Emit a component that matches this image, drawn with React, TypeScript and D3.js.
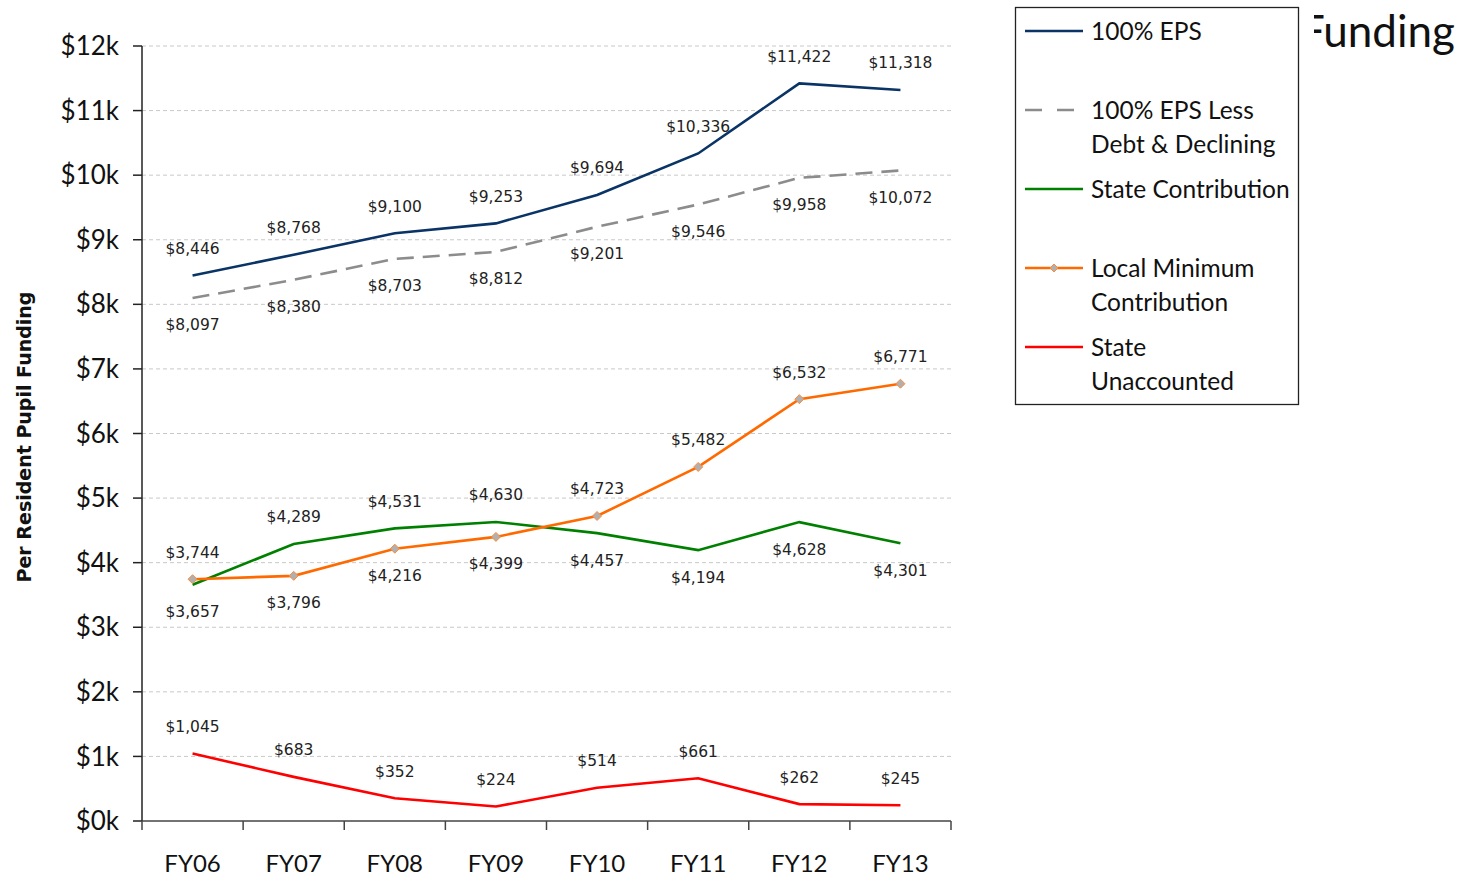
import * as d3 from "d3";

const years = ["FY06", "FY07", "FY08", "FY09", "FY10", "FY11", "FY12", "FY13"];
const yTicks = [0, 1, 2, 3, 4, 5, 6, 7, 8, 9, 10, 11, 12];

const eps = [8446, 8768, 9100, 9253, 9694, 10336, 11422, 11318];
const epsLess = [8097, 8380, 8703, 8812, 9201, 9546, 9958, 10072];
const stateContrib = [3657, 4289, 4531, 4630, 4457, 4194, 4628, 4301];
const localMin = [3744, 3796, 4216, 4399, 4723, 5482, 6532, 6771];
const unaccounted = [1045, 683, 352, 224, 514, 661, 262, 245];

const legendNames = [
  ["100% EPS"],
  ["100% EPS Less", "Debt & Declining"],
  ["State Contribution"],
  ["Local Minimum", "Contribution"],
  ["State", "Unaccounted"],
];

const W = 1464;
const H = 878;
const left = 142;
const right = 951;
const top = 46;
const bottom = 821;

const labelFont = "'DejaVu Sans', Verdana, sans-serif";
const bigFont = "Lato, 'Open Sans', sans-serif";

export default function App() {
  const x = d3.scaleBand<string>().domain(years).range([left, right]);
  const y = d3.scaleLinear().domain([0, 12000]).range([bottom, top]);
  const cx = (i: number) => (x(years[i]) as number) + x.bandwidth() / 2;
  const line = d3
    .line<number>()
    .x((_, i) => cx(i))
    .y((d) => y(d));
  const fmt = d3.format("$,");

  // above/below for the green and orange series: higher one gets label on top
  const series = [
    { name: "eps", data: eps, color: "#0a3366", dash: "", pos: eps.map(() => -1) },
    { name: "epsLess", data: epsLess, color: "#8c8c8c", dash: "17,9", pos: epsLess.map(() => 1) },
    {
      name: "state",
      data: stateContrib,
      color: "#008000",
      dash: "",
      pos: stateContrib.map((v, i) => (v > localMin[i] ? -1 : 1)),
    },
    {
      name: "local",
      data: localMin,
      color: "#ff6a00",
      dash: "",
      pos: localMin.map((v, i) => (v > stateContrib[i] ? -1 : 1)),
    },
    { name: "unacc", data: unaccounted, color: "#ff0000", dash: "", pos: unaccounted.map(() => -1) },
  ];

  const legendY = [31, 110, 189, 268, 347];

  return (
    <svg
      width={W}
      height={H}
      style={{ position: "absolute", left: 0, top: 0, background: "#fff" }}
    >
      <defs>
        <clipPath id="titleClip">
          <rect x={1314} y={0} width={160} height={80} />
        </clipPath>
      </defs>

      {/* gridlines */}
      {yTicks.slice(1).map((t) => (
        <line
          key={t}
          x1={left}
          x2={right}
          y1={y(t * 1000)}
          y2={y(t * 1000)}
          stroke="#c8c8c8"
          strokeWidth={1}
          strokeDasharray="4,3"
        />
      ))}

      {/* y axis */}
      <line x1={left} x2={left} y1={top} y2={bottom} stroke="#222" strokeWidth={1.5} />
      {yTicks.map((t) => (
        <g key={t}>
          <line x1={left - 9} x2={left} y1={y(t * 1000)} y2={y(t * 1000)} stroke="#222" strokeWidth={1.5} />
          <text
            x={119}
            y={y(t * 1000)}
            dy="0.35em"
            textAnchor="end"
            fontFamily={bigFont}
            fontSize={26}
            fill="#111"
          >{`$${t}k`}</text>
        </g>
      ))}

      {/* x axis */}
      <line x1={left} x2={right} y1={bottom} y2={bottom} stroke="#444" strokeWidth={1.5} />
      {[...years.map((c) => x(c) as number), right].map((v, i) => (
        <line key={i} x1={v} x2={v} y1={bottom} y2={bottom + 9} stroke="#444" strokeWidth={1.5} />
      ))}
      {years.map((c, i) => (
        <text
          key={c}
          x={cx(i)}
          y={864}
          dy="0.35em"
          textAnchor="middle"
          fontFamily={bigFont}
          fontSize={24}
          fill="#111"
        >
          {c}
        </text>
      ))}

      {/* y title */}
      <text
        transform={`translate(24,437) rotate(-90)`}
        textAnchor="middle"
        dy="0.35em"
        fontFamily={labelFont}
        fontWeight="bold"
        fontSize={19}
        fill="#111"
      >
        Per Resident Pupil Funding
      </text>

      {/* lines */}
      {series.map((s) => (
        <path
          key={s.name}
          d={line(s.data) as string}
          fill="none"
          stroke={s.color}
          strokeWidth={2.6}
          strokeDasharray={s.dash || undefined}
        />
      ))}
      {localMin.map((v, i) => (
        <path
          key={i}
          d={`M${cx(i)},${y(v) - 4.5}L${cx(i) + 4.5},${y(v)}L${cx(i)},${y(v) + 4.5}L${cx(i) - 4.5},${y(v)}Z`}
          fill="#b0b0b0"
          stroke="#ff8a3a"
          strokeWidth={1}
        />
      ))}

      {/* data labels */}
      {series.map((s) =>
        s.data.map((v, i) => (
          <text
            key={s.name + i}
            x={cx(i)}
            y={y(v) + s.pos[i] * 27}
            dy="0.35em"
            textAnchor="middle"
            fontFamily={labelFont}
            fontSize={15.5}
            fill="#222"
          >
            {fmt(v)}
          </text>
        ))
      )}

      {/* title fragment */}
      <text
        x={1455}
        y={47}
        textAnchor="end"
        fontFamily={bigFont}
        fontSize={44}
        fill="#111"
        clipPath="url(#titleClip)"
      >
        Funding
      </text>

      {/* legend */}
      <rect x={1015.5} y={7.5} width={283} height={397} fill="#fff" stroke="#222" strokeWidth={1.3} />
      {legendNames.map((lines, k) => {
        const s = series[k];
        const ly = legendY[k];
        return (
          <g key={k}>
            <line
              x1={1025}
              x2={1083}
              y1={ly}
              y2={ly}
              stroke={s.color}
              strokeWidth={2.6}
              strokeDasharray={s.dash ? "17,15" : undefined}
            />
            {s.name === "local" && (
              <path
                d={`M1054,${ly - 4}L1058,${ly}L1054,${ly + 4}L1050,${ly}Z`}
                fill="#b0b0b0"
                stroke="#ff8a3a"
                strokeWidth={1}
              />
            )}
            {lines.map((t, j) => (
              <text
                key={j}
                x={1091}
                y={ly + j * 34}
                dy="0.35em"
                fontFamily={bigFont}
                fontSize={24.5}
                fill="#111"
              >
                {t}
              </text>
            ))}
          </g>
        );
      })}
    </svg>
  );
}
